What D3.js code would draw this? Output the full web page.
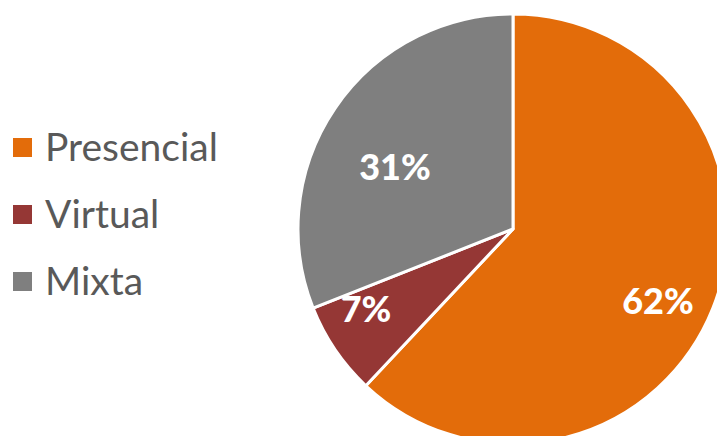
<!DOCTYPE html>
<html><head><meta charset="utf-8">
<script src="https://cdn.jsdelivr.net/npm/d3@7"></script>
<style>html,body{margin:0;padding:0;background:#fff;overflow:hidden}</style>
</head><body>
<svg id="c" width="717" height="436"></svg>
<script>
const categories = ["Presencial", "Virtual", "Mixta"];
const values = [62, 7, 31];
const labels = ["62%", "7%", "31%"];
const colors = ["#E36C0A", "#953735", "#7F7F7F"];

const svg = d3.select("#c");
const cx = 513, cy = 229, r = 215;
const pie = d3.pie().sort(null).value(d => d)(values);
const arc = d3.arc().innerRadius(0).outerRadius(r);
const g = svg.append("g").attr("transform", `translate(${cx},${cy})`);
g.selectAll("path").data(pie).join("path")
  .attr("d", arc)
  .attr("fill", (d, i) => colors[i])
  .attr("stroke", "#fff").attr("stroke-width", 3).attr("stroke-linejoin", "round");

const labelPos = [[145, 85], [-147, 93], [-118, -49]];
g.selectAll("text").data(pie).join("text")
  .attr("x", (d, i) => labelPos[i][0])
  .attr("y", (d, i) => labelPos[i][1])
  .attr("text-anchor", "middle")
  .attr("font-family", "Lato, 'Open Sans', sans-serif")
  .attr("font-weight", "900")
  .attr("font-size", 36)
  .attr("fill", "#fff")
  .text((d, i) => labels[i]);

const leg = svg.append("g");
const items = leg.selectAll("g").data(categories).join("g")
  .attr("transform", (d, i) => `translate(0,${161 + i * 67})`);
items.append("rect").attr("x", 13).attr("y", -23).attr("width", 19).attr("height", 19)
  .attr("fill", (d, i) => colors[i]);
items.append("text").attr("x", 45).attr("y", 0)
  .attr("font-family", "Lato, 'Open Sans', sans-serif")
  .attr("font-size", 39)
  .attr("fill", "#595959")
  .text(d => d);
</script>
</body></html>
